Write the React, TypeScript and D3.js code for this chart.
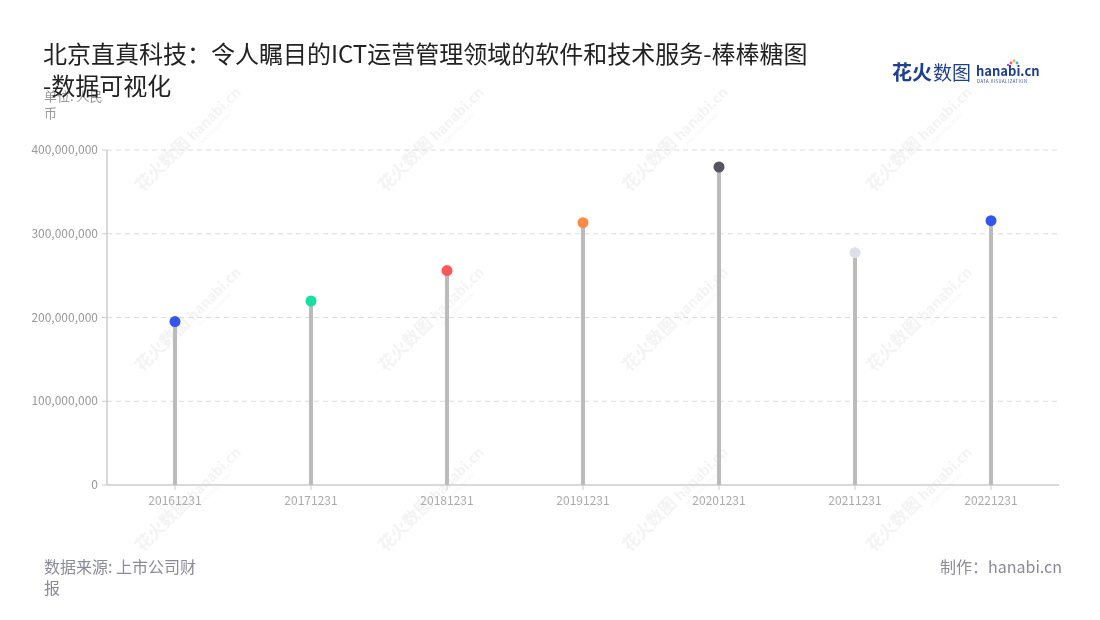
import React from "react";
import * as d3 from "d3";

const categories = ["20161231", "20171231", "20181231", "20191231", "20201231", "20211231", "20221231"];
const values = [195200000, 219700000, 256000000, 313200000, 379700000, 277400000, 315600000];
const dotColors = ["#3355ee", "#14e0a0", "#ff5858", "#ff8a48", "#55555e", "#dde0e8", "#3355ee"];
const yTicks = [0, 100000000, 200000000, 300000000, 400000000];

const titleLines = ["北京直真科技：令人瞩目的ICT运营管理领域的软件和技术服务-棒棒糖图", "-数据可视化"];
const unitLines = ["单位: 人民", "币"];
const sourceLines = ["数据来源: 上市公司财", "报"];
const credit = "制作：hanabi.cn";

const W = 1100, H = 620;
const M = { left: 107, right: 1059, top: 150, bottom: 485 };
const FONT = "'Noto Sans CJK SC', 'Noto Sans', sans-serif";

export default function App() {
  const x = d3.scaleBand<string>().domain(categories).range([M.left, M.right]);
  const y = d3.scaleLinear().domain([0, 400000000]).range([M.bottom, M.top]);
  const fmt = d3.format(",");

  const wmCols = [185, 428, 672, 916];
  const wmRows = [150, 330, 510];

  return (
    <svg width={W} height={H} style={{ position: "absolute", left: 0, top: 0, fontFamily: FONT }}>
      <rect width={W} height={H} fill="#fff" />
      {/* watermarks */}
      <g opacity={0.4}>
        {wmRows.map((wy, ri) =>
          wmCols.map((wx, ci) => (
            <g key={`${ri}-${ci}`} transform={`translate(${wx},${wy}) rotate(-45)`}>
              <text x={-60} y={0} fontSize={17} fontWeight={700} fill="#e2e2e2">花火数图</text>
              <text x={12} y={0} fontSize={14} fontWeight={700} fill="#e2e2e2">hanabi.cn</text>
              <text x={14} y={8} fontSize={4.5} fill="#e2e2e2">DATA VISUALIZATION</text>
            </g>
          ))
        )}
      </g>

      {/* grid */}
      {yTicks.map((t) => (
        <g key={t}>
          {t > 0 && (
            <line x1={M.left} x2={M.right} y1={y(t)} y2={y(t)} stroke="#dcdcdc" strokeDasharray="5,4" />
          )}
          <line x1={M.left - 5} x2={M.left} y1={y(t)} y2={y(t)} stroke="#ccc" />
          <text x={M.left - 9} y={y(t)} dy="0.35em" textAnchor="end" fontSize={12} fill="#999">
            {fmt(t)}
          </text>
        </g>
      ))}
      {/* axes */}
      <line x1={M.left} x2={M.left} y1={M.top} y2={M.bottom} stroke="#ccc" strokeWidth={1.5} />
      <line x1={M.left} x2={M.right} y1={M.bottom} y2={M.bottom} stroke="#ccc" strokeWidth={1.5} />
      {categories.map((c) => {
        const cx = (x(c) as number) + x.bandwidth() / 2;
        return (
          <g key={c}>
            <line x1={cx} x2={cx} y1={M.bottom} y2={M.bottom + 5} stroke="#ccc" />
            <text x={cx} y={M.bottom + 16} dy="0.35em" textAnchor="middle" fontSize={12} fill="#aaa">
              {c}
            </text>
          </g>
        );
      })}

      {/* lollipops */}
      {categories.map((c, i) => {
        const cx = (x(c) as number) + x.bandwidth() / 2;
        return (
          <g key={"l" + c}>
            <line x1={cx} x2={cx} y1={y(0)} y2={y(values[i])} stroke="#bbbbbb" strokeWidth={4} />
            <circle cx={cx} cy={y(values[i])} r={5.5} fill={dotColors[i]} />
          </g>
        );
      })}

      {/* unit */}
      {unitLines.map((l, i) => (
        <text key={l} x={44} y={101 + i * 17} fontSize={13} fill="#999">{l}</text>
      ))}

      {/* title */}
      {titleLines.map((l, i) => (
        <text key={l} x={43} y={63 + i * 32} fontSize={24} fill="#222">{l}</text>
      ))}

      {/* logo */}
      <g>
        <text x={892} y={80} fontSize={20} fontWeight={700} fill="#1e3f8f">花火</text>
        <text x={933} y={80} fontSize={19} fill="#1e3f8f">数图</text>
        <text x={976} y={76} fontSize={13} fontWeight={700} fill="#1e3f8f">hanabi.cn</text>
        <text x={977} y={83} fontSize={4.2} fill="#1e3f8f" letterSpacing={0.55}>DATA VISUALIZATION</text>
        <circle cx={1011} cy={63} r={1.4} fill="#ff5a5a" />
        <circle cx={1014} cy={61} r={1.4} fill="#ffb030" />
        <circle cx={1017} cy={63} r={1.4} fill="#20c0e0" />
        <circle cx={1008} cy={65} r={1.2} fill="#a050e0" />
      </g>

      {/* footer */}
      {sourceLines.map((l, i) => (
        <text key={l} x={44} y={573 + i * 21} fontSize={16} fill="#8a8a98">{l}</text>
      ))}
      <text x={1062} y={573} textAnchor="end" fontSize={16} fill="#8a8a98">{credit}</text>
    </svg>
  );
}
